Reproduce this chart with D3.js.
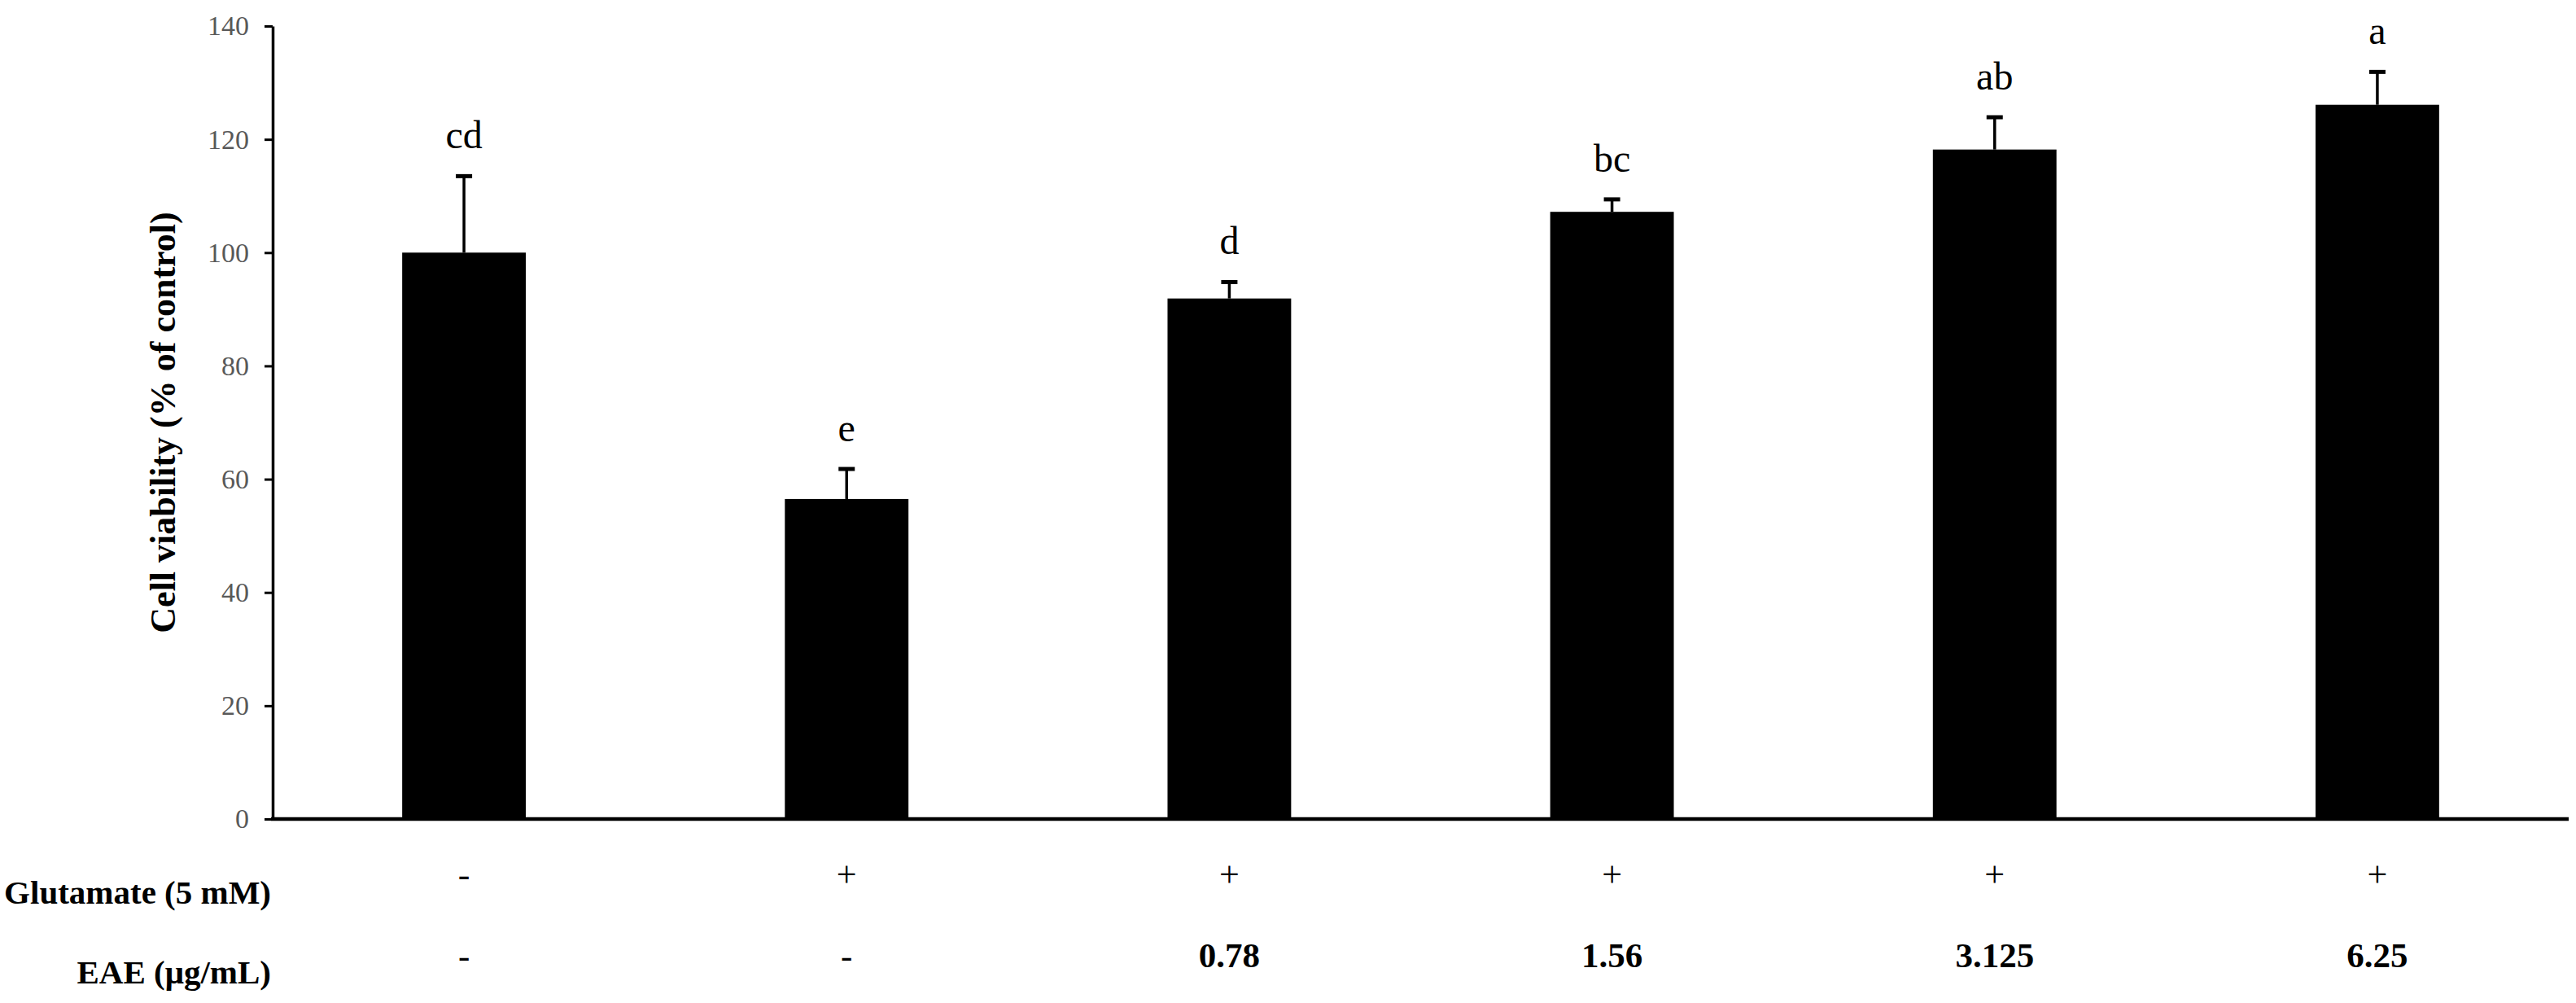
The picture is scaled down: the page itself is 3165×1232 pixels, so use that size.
<!DOCTYPE html>
<html>
<head>
<meta charset="utf-8">
<script src="https://cdn.jsdelivr.net/npm/d3@7"></script>
<style>
  body { margin: 0; background: #fff; }
  text { font-family: "Liberation Serif", "Times New Roman", serif; }
</style>
</head>
<body>
<svg width="3165" height="1232"></svg>
<script>
// data
const groups = ['G1', 'G2', 'G3', 'G4', 'G5', 'G6'];
const viability = [100, 56.5, 91.9, 107.2, 118.2, 126.1];
const sd = [13.5, 5.3, 2.9, 2.2, 5.7, 5.8];
const letters = ['cd', 'e', 'd', 'bc', 'ab', 'a'];
const glutamate = ['-', '+', '+', '+', '+', '+'];
const eae = ['-', '-', '0.78', '1.56', '3.125', '6.25'];
const yTicks = [0, 20, 40, 60, 80, 100, 120, 140];

const svg = d3.select("svg"),
  width = +svg.attr("width"),
  height = +svg.attr("height");

svg.append("rect").attr("width", width).attr("height", height).attr("fill", "#fff");

const margin = {top: 32, right: 9, bottom: 226, left: 335};

// scales
const x = d3.scaleBand()
  .domain(groups)
  .range([margin.left, width - margin.right])
  .paddingInner(0.677)
  .paddingOuter(0.3385);

const y = d3.scaleLinear()
  .domain([0, 140])
  .range([height - margin.bottom, margin.top]);

// y axis
const yAxis = svg.append("g")
  .attr("transform", `translate(${margin.left},0)`)
  .call(d3.axisLeft(y).tickValues(yTicks).tickSize(10).tickPadding(19).tickSizeOuter(0));
yAxis.select(".domain").attr("stroke", "#000").attr("stroke-width", 3.5);
yAxis.selectAll(".tick line").attr("stroke", "#000").attr("stroke-width", 3);
yAxis.selectAll(".tick text")
  .attr("fill", "#595959")
  .style("font-size", "34px")
  .style("font-family", "'Liberation Serif', serif");

// y axis title
svg.append("text")
  .attr("transform", `translate(215,${(y(0) + y(140)) / 2}) rotate(-90)`)
  .attr("text-anchor", "middle")
  .style("font-size", "44px")
  .style("font-weight", "bold")
  .text("Cell viability (% of control)");

// bars
svg.append("g")
  .selectAll("rect")
  .data(viability)
  .enter()
  .append("rect")
    .attr("x", (d, i) => x(groups[i]))
    .attr("y", d => y(d))
    .attr("width", x.bandwidth())
    .attr("height", d => y(0) - y(d))
    .attr("fill", "#000");

// error bars (upper only)
const err = svg.append("g");
err.selectAll("line.stem")
  .data(viability)
  .enter()
  .append("line")
    .attr("class", "stem")
    .attr("x1", (d, i) => x(groups[i]) + x.bandwidth() / 2)
    .attr("x2", (d, i) => x(groups[i]) + x.bandwidth() / 2)
    .attr("y1", d => y(d))
    .attr("y2", (d, i) => y(d + sd[i]))
    .attr("stroke", "#000")
    .attr("stroke-width", 3.5);
err.selectAll("line.cap")
  .data(viability)
  .enter()
  .append("line")
    .attr("class", "cap")
    .attr("x1", (d, i) => x(groups[i]) + x.bandwidth() / 2 - 10)
    .attr("x2", (d, i) => x(groups[i]) + x.bandwidth() / 2 + 10)
    .attr("y1", (d, i) => y(d + sd[i]))
    .attr("y2", (d, i) => y(d + sd[i]))
    .attr("stroke", "#000")
    .attr("stroke-width", 5);

// significance letters
svg.append("g")
  .selectAll("text")
  .data(letters)
  .enter()
  .append("text")
    .attr("x", (d, i) => x(groups[i]) + x.bandwidth() / 2)
    .attr("y", (d, i) => y(viability[i] + sd[i]) - 34)
    .attr("text-anchor", "middle")
    .style("font-size", "48px")
    .text(d => d);

// x axis line (no ticks)
svg.append("line")
  .attr("x1", margin.left - 2)
  .attr("x2", width - margin.right)
  .attr("y1", y(0))
  .attr("y2", y(0))
  .attr("stroke", "#000")
  .attr("stroke-width", 4.5);

// treatment table under the axis
const rowLabelX = 333;
svg.append("text")
  .attr("x", rowLabelX)
  .attr("y", 1110)
  .attr("text-anchor", "end")
  .style("font-size", "41px")
  .style("font-weight", "bold")
  .text("Glutamate (5 mM)");
svg.append("text")
  .attr("x", rowLabelX)
  .attr("y", 1208)
  .attr("text-anchor", "end")
  .style("font-size", "41px")
  .style("font-weight", "bold")
  .text("EAE (μg/mL)");

svg.append("g")
  .selectAll("text")
  .data(glutamate)
  .enter()
  .append("text")
    .attr("x", (d, i) => x(groups[i]) + x.bandwidth() / 2)
    .attr("y", 1089)
    .attr("text-anchor", "middle")
    .style("font-size", "44px")
    .text(d => d);

svg.append("g")
  .selectAll("text")
  .data(eae)
  .enter()
  .append("text")
    .attr("x", (d, i) => x(groups[i]) + x.bandwidth() / 2)
    .attr("y", 1188)
    .attr("text-anchor", "middle")
    .style("font-size", "43px")
    .style("font-weight", d => d === '-' ? "normal" : "bold")
    .text(d => d);
</script>
</body>
</html>
